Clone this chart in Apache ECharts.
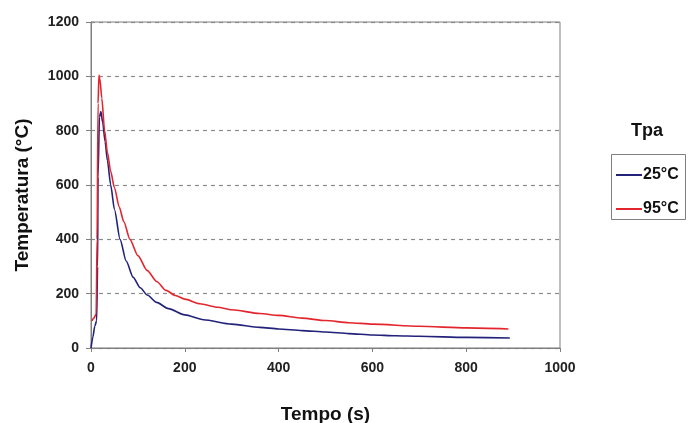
<!DOCTYPE html>
<html>
<head>
<meta charset="utf-8">
<script src="https://cdn.jsdelivr.net/npm/echarts@6/dist/echarts.min.js"></script>
<style>html,body{margin:0;padding:0;background:#fff}#c{width:693px;height:423px}</style>
</head>
<body>
<div id="c"></div>
<script>
var seriesNames = ['25°C', '95°C'];
var xTicks = [0, 200, 400, 600, 800, 1000];
var yTicks = [0, 200, 400, 600, 800, 1000, 1200];
var blue25 = [[0,0],[4,40],[8,80],[12,100],[14,300],[15,630],[18,850],[21,870],[25,830],[30,760],[35,690],[42,600],[50,510],[62,400],[75,320],[90,260],[105,222],[120,195],[140,168],[165,145],[200,122],[240,104],[300,88],[360,76],[400,70],[450,64],[500,59],[550,53],[600,48],[650,45],[700,43],[800,39],[893,37]];
var red95 = [[2,100],[6,110],[11,125],[13,400],[15,900],[17,1005],[19,990],[23,920],[29,800],[35,720],[42,650],[50,590],[60,520],[70,465],[83,400],[100,340],[120,285],[140,245],[160,212],[180,193],[200,180],[232,163],[270,150],[300,141],[360,127],[400,120],[450,110],[500,101],[550,93],[600,88],[700,80],[800,74],[890,70]];

var chart = echarts.init(document.getElementById('c'));
var F = 'Liberation Sans, Arial, sans-serif';
chart.setOption({
  animation: false,
  grid: {left: 91, right: 133, top: 22, bottom: 75, show: true, borderColor: '#7f7f7f', borderWidth: 1, containLabel: false, outerBoundsMode: 'none'},
  xAxis: {
    type: 'value', min: xTicks[0], max: xTicks[xTicks.length-1], interval: 200,
    name: 'Tempo (s)', nameLocation: 'middle', nameGap: 57,
    nameTextStyle: {fontFamily: F, fontWeight: 'bold', fontSize: 19, color: '#111'},
    axisLine: {lineStyle: {color: '#7f7f7f'}},
    axisTick: {show: true, length: 4, lineStyle: {color: '#7f7f7f'}},
    axisLabel: {fontFamily: F, fontWeight: 'bold', fontSize: 14, color: '#222', margin: 13, formatter: function(v){return String(v);}},
    splitLine: {show: false}
  },
  yAxis: {
    type: 'value', min: yTicks[0], max: yTicks[yTicks.length-1], interval: 200,
    axisLine: {show: true, lineStyle: {color: '#7f7f7f'}},
    axisTick: {show: true, length: 5, lineStyle: {color: '#7f7f7f'}},
    axisLabel: {fontFamily: F, fontWeight: 'bold', fontSize: 14, color: '#222', margin: 12, formatter: function(v){return String(v);}},
    splitLine: {show: true, lineStyle: {color: '#8c8c8c', type: [4, 4], width: 1.2}}
  },
  legend: {
    orient: 'vertical', left: 611, top: 162, itemWidth: 26, itemHeight: 14, itemGap: 18,
    icon: 'path://M0,6 L26,6 L26,8 L0,8 Z',
    data: seriesNames,
    textStyle: {fontFamily: F, fontWeight: 'bold', fontSize: 16, color: '#111', padding: [0,0,0,-4]}
  },
  graphic: [
    {type: 'rect', left: 609, top: 152, shape: {width: 74, height: 65}, style: {fill: 'none', stroke: '#7f7f7f', lineWidth: 1}},
    {type: 'text', left: 631, top: 122, style: {text: 'Tpa', font: 'bold 18px ' + F, fill: '#111'}},
    {type: 'text', x: 23, y: 195, rotation: Math.PI / 2, style: {text: 'Temperatura (°C)', font: 'bold 19px ' + F, fill: '#111', align: 'center', verticalAlign: 'middle'}}
  ],
  series: [
    {name: seriesNames[0], type: 'line', data: blue25, symbol: 'none', smooth: 0.25, smoothMonotone: 'x', lineStyle: {color: '#22227a', width: 1.6}, itemStyle: {color: '#22227a'}},
    {name: seriesNames[1], type: 'line', data: red95, symbol: 'none', smooth: 0.25, smoothMonotone: 'x', lineStyle: {color: '#e3262e', width: 1.6}, itemStyle: {color: '#e3262e'}}
  ]
});
</script>
</body>
</html>
